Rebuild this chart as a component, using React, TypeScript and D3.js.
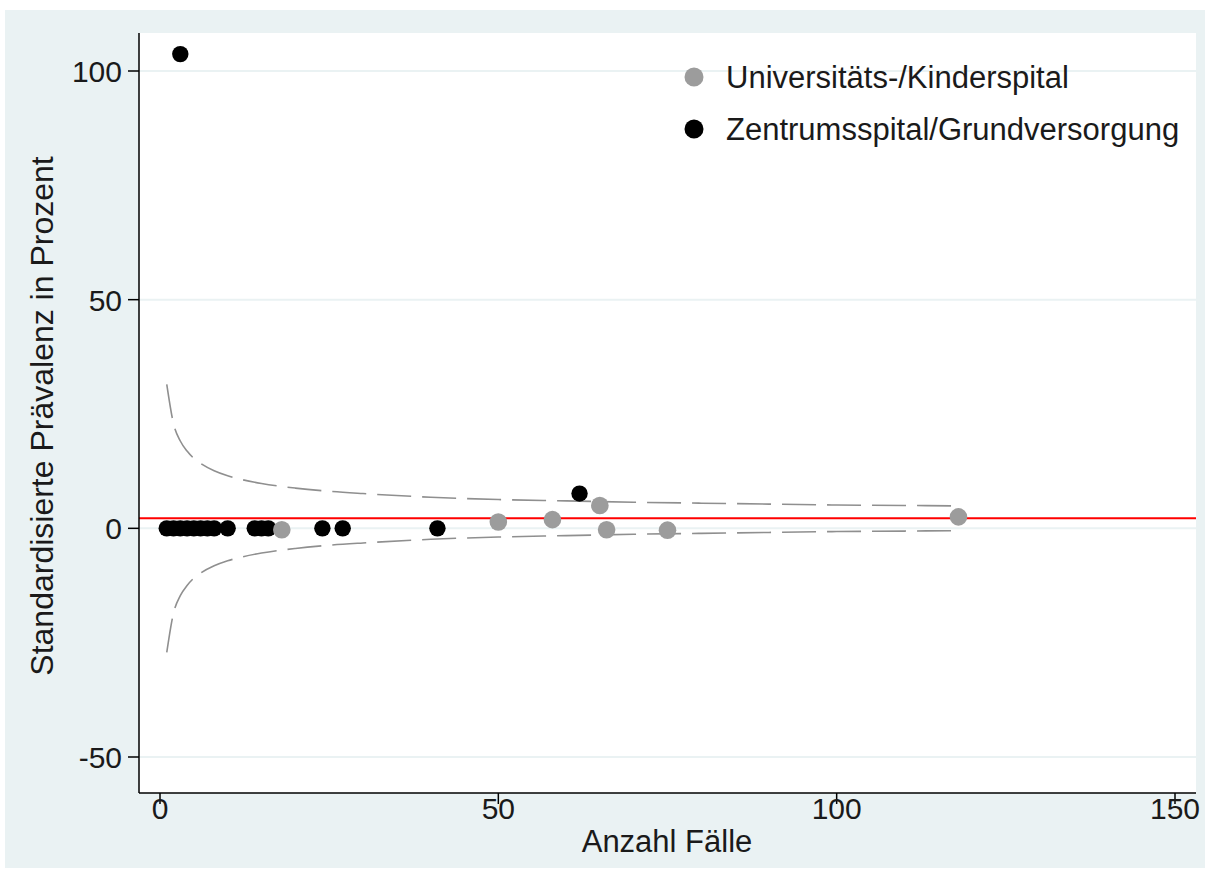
import React from "react";
import * as d3 from "d3";

// ---- data ----
const uniCases = [18, 50, 58, 65, 66, 75, 118];
const uniPrev = [-0.3, 1.4, 1.9, 5.0, -0.3, -0.4, 2.5];

const zentCases = [1, 2, 3, 4, 5, 6, 7, 8, 10, 14, 15, 16, 24, 27, 41, 62, 3];
const zentPrev = [0, 0, 0, 0, 0, 0, 0, 0, 0, 0, 0, 0, 0, 0, 0, 7.6, 103.7];

const funnelCases = [1, 2, 3, 4, 5, 6, 8, 10, 12, 15, 20, 25, 30, 40, 50, 60, 70, 80, 90, 100, 110, 118];
const funnelUpper = [31.5, 22.9, 19.1, 16.9, 15.3, 14.2, 12.6, 11.5, 10.7, 9.8, 8.8, 8.1, 7.6, 6.8, 6.3, 6.0, 5.7, 5.5, 5.3, 5.1, 5.0, 4.9];
const funnelLower = [-27.1, -18.5, -14.7, -12.5, -10.9, -9.8, -8.2, -7.1, -6.3, -5.4, -4.4, -3.7, -3.2, -2.4, -1.9, -1.6, -1.3, -1.1, -0.9, -0.7, -0.6, -0.5];

const meanPrev = 2.2;

const xTicks = [0, 50, 100, 150];
const yTicks = [-50, 0, 50, 100];

const legendLabels = ["Universitäts-/Kinderspital", "Zentrumsspital/Grundversorgung"];

const FONT = "'Liberation Sans', Arial, Helvetica, sans-serif";

export default function App() {
  const W = 1210;
  const H = 875;
  const plot = { left: 139, right: 1196, top: 33, bottom: 793 };

  const x = d3.scaleLinear().domain([0, 150]).range([160, 1175]);
  const y = d3.scaleLinear().domain([-50, 100]).range([757, 71]);

  const line = d3
    .line<[number, number]>()
    .x((d) => x(d[0]))
    .y((d) => y(d[1]))
    .curve(d3.curveMonotoneX);

  const upperPts: [number, number][] = funnelCases.map((n, i) => [n, funnelUpper[i]]);
  const lowerPts: [number, number][] = funnelCases.map((n, i) => [n, funnelLower[i]]);

  const bg = "#EAF2F3";
  const grayDot = "#9C9C9C";

  return (
    <svg
      width={W}
      height={H}
      style={{ position: "absolute", left: 0, top: 0, background: "#fff" }}
      fontFamily={FONT}
    >
      <rect x={5} y={10} width={1200} height={858} fill={bg} />
      <rect x={plot.left} y={plot.top} width={plot.right - plot.left} height={plot.bottom - plot.top} fill="#fff" />

      {/* gridlines */}
      {yTicks.map((t) => (
        <line key={"g" + t} x1={plot.left} x2={plot.right} y1={y(t)} y2={y(t)} stroke={bg} strokeWidth={2} />
      ))}

      {/* funnel limits */}
      <path d={line(upperPts) || ""} fill="none" stroke="#8f8f8f" strokeWidth={1.6} strokeDasharray="34 11" />
      <path d={line(lowerPts) || ""} fill="none" stroke="#8f8f8f" strokeWidth={1.6} strokeDasharray="34 11" />

      {/* mean line */}
      <line x1={plot.left} x2={plot.right} y1={y(meanPrev)} y2={y(meanPrev)} stroke="#FF0000" strokeWidth={2} />

      {/* points */}
      {zentCases.map((n, i) => (
        <circle key={"z" + i} cx={x(n)} cy={y(zentPrev[i])} r={8.2} fill="#000" />
      ))}
      {uniCases.map((n, i) => (
        <circle key={"u" + i} cx={x(n)} cy={y(uniPrev[i])} r={8.8} fill={grayDot} />
      ))}

      {/* axes */}
      <line x1={plot.left} x2={plot.left} y1={plot.top} y2={plot.bottom} stroke="#000" strokeWidth={1.5} />
      <line x1={plot.left} x2={plot.right} y1={plot.bottom} y2={plot.bottom} stroke="#000" strokeWidth={1.5} />

      {yTicks.map((t) => (
        <g key={"yt" + t}>
          <line x1={plot.left - 11} x2={plot.left} y1={y(t)} y2={y(t)} stroke="#000" strokeWidth={1.5} />
          <text x={plot.left - 17} y={y(t) + 11} textAnchor="end" fontSize={30} fill="#1a1a1a">
            {t}
          </text>
        </g>
      ))}
      {xTicks.map((t) => (
        <g key={"xt" + t}>
          <line x1={x(t)} x2={x(t)} y1={plot.bottom} y2={plot.bottom + 11} stroke="#000" strokeWidth={1.5} />
          <text x={x(t)} y={819} textAnchor="middle" fontSize={30} fill="#1a1a1a">
            {t}
          </text>
        </g>
      ))}

      <text x={667} y={852} textAnchor="middle" fontSize={31} fill="#1a1a1a">
        Anzahl Fälle
      </text>
      <text
        transform={`translate(53, 416) rotate(-90)`}
        textAnchor="middle"
        fontSize={32}
        fill="#1a1a1a"
      >
        Standardisierte Prävalenz in Prozent
      </text>

      {/* legend */}
      <circle cx={694} cy={77} r={9.5} fill={grayDot} />
      <text x={726} y={88} fontSize={31} fill="#1a1a1a">
        {legendLabels[0]}
      </text>
      <circle cx={694} cy={129} r={9.5} fill="#000" />
      <text x={726} y={140} fontSize={31} fill="#1a1a1a">
        {legendLabels[1]}
      </text>
    </svg>
  );
}
